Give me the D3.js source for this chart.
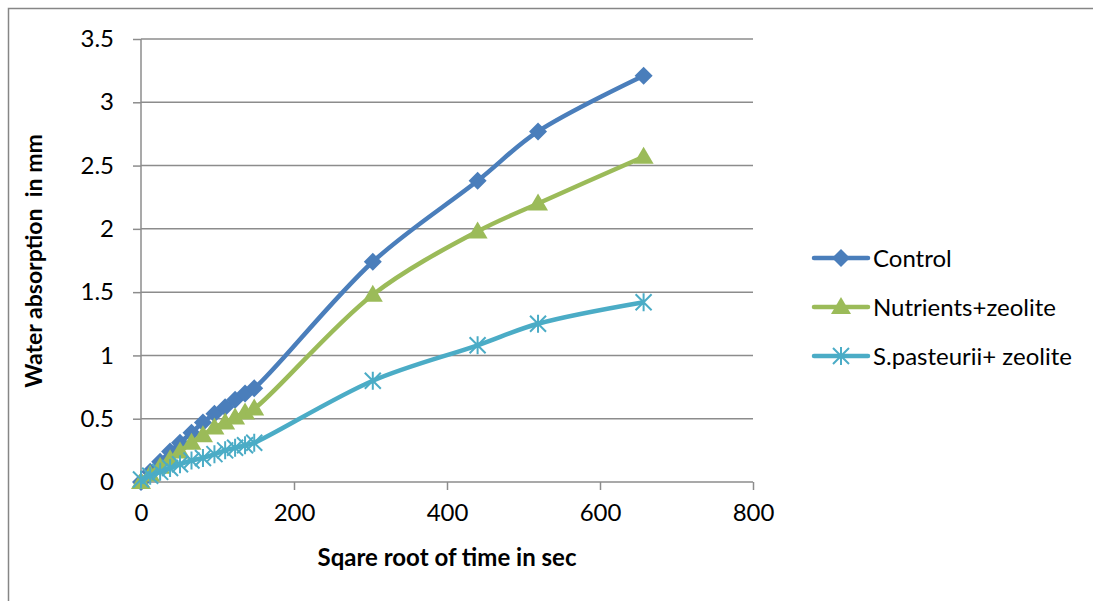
<!DOCTYPE html>
<html>
<head>
<meta charset="utf-8">
<script src="https://cdn.jsdelivr.net/npm/d3@7"></script>
<style>
  body { margin: 0; background: #fff; }
  text { font-family: Lato, "Open Sans", sans-serif; fill: #000; }
</style>
</head>
<body>
<div id="chart"></div>
<script>
// x = square root of time (s), shared by all series
const xValues = [0, 12, 25, 38, 51, 66, 81, 96, 110, 123, 136, 148, 303, 440, 519, 657];
const control = [0, 0.08, 0.16, 0.24, 0.31, 0.39, 0.47, 0.54, 0.59, 0.65, 0.70, 0.74, 1.74, 2.38, 2.77, 3.21];
const nutrients = [0, 0.06, 0.12, 0.18, 0.24, 0.31, 0.37, 0.43, 0.47, 0.51, 0.55, 0.58, 1.48, 1.98, 2.20, 2.57];
const pasteurii = [0.02, 0.05, 0.08, 0.11, 0.14, 0.17, 0.19, 0.22, 0.25, 0.27, 0.29, 0.31, 0.80, 1.08, 1.25, 1.42];
const seriesNames = ["Control", "Nutrients+zeolite", "S.pasteurii+ zeolite"];
const xTicks = [0, 200, 400, 600, 800];
const yTicks = [0, 0.5, 1, 1.5, 2, 2.5, 3, 3.5];

const w = 1093;
const h = 601;
const colors = ["#4A7EBB", "#9BBB59", "#4BACC6"];
const shapes = ["diamond", "triangle", "star"];

const series = [control, nutrients, pasteurii].map((vals, i) => ({
    name: seriesNames[i],
    color: colors[i],
    shape: shapes[i],
    points: vals.map((v, j) => ({ x: xValues[j], y: v }))
}));

const svg = d3.select("#chart")
    .append("svg")
    .attr("width", w)
    .attr("height", h);

// outer chart border
svg.append("rect")
    .attr("x", 8.5).attr("y", 8.5)
    .attr("width", w + 10).attr("height", h + 10)
    .attr("fill", "none")
    .attr("stroke", "#868686")
    .attr("stroke-width", 1.5);

const xScale = d3.scaleLinear().domain([0, 800]).range([141, 753]);
const yScale = d3.scaleLinear().domain([0, 3.5]).range([482, 39]);

// gridlines
svg.append("g")
    .selectAll("line")
    .data(yTicks.filter(d => d > 0))
    .enter()
    .append("line")
    .attr("x1", xScale(0)).attr("x2", xScale(800))
    .attr("y1", d => yScale(d)).attr("y2", d => yScale(d))
    .attr("stroke", "#8c8c8c")
    .attr("stroke-width", 1.5);

// Y axis
const yAxis = d3.axisLeft(yScale).tickValues(yTicks).tickSize(8).tickPadding(19)
    .tickFormat(d => d);
const gy = svg.append("g")
    .attr("transform", `translate(${xScale(0)},0)`)
    .call(yAxis);
gy.select(".domain").remove();
gy.append("line")
    .attr("y1", yScale(0)).attr("y2", yScale(3.5))
    .attr("stroke", "#8c8c8c").attr("stroke-width", 1.5);

// X axis
const xAxis = d3.axisBottom(xScale).tickValues(xTicks).tickSize(8).tickPadding(14);
const gx = svg.append("g")
    .attr("transform", `translate(0,${yScale(0)})`)
    .call(xAxis);
gx.select(".domain").remove();
gx.append("line")
    .attr("x1", xScale(0) - 8).attr("x2", xScale(800))
    .attr("stroke", "#8c8c8c").attr("stroke-width", 1.5);

[gx, gy].forEach(g => {
    g.selectAll(".tick line").attr("stroke", "#8c8c8c").attr("stroke-width", 1.5);
    g.selectAll(".tick text").attr("font-size", 24).attr("fill", "#000")
        .style("font-family", "Lato, sans-serif");
});

// axis titles
svg.append("text")
    .attr("x", 447).attr("y", 566)
    .attr("text-anchor", "middle")
    .attr("font-size", 24)
    .attr("font-weight", "bold")
    .text("Sqare root of time in sec");

svg.append("text")
    .attr("transform", "translate(42,261) rotate(-90)")
    .attr("text-anchor", "middle")
    .attr("font-size", 23)
    .attr("font-weight", "bold")
    .style("white-space", "pre")
    .text("Water absorption  in mm");

// marker shapes
const markerPath = (shape) => {
    if (shape === "diamond") return "M0,-9L9,0L0,9L-9,0Z";
    if (shape === "triangle") return "M0,-10L10,7L-10,7Z";
    return "M0,-9L0,9M-8,-8L8,8M-8,8L8,-8";
};

const line = d3.line()
    .x(d => xScale(d.x))
    .y(d => yScale(d.y))
    .curve(d3.curveCatmullRom.alpha(0.5));

const drawMarker = (g, shape, color, x, y) => {
    const p = g.append("path")
        .attr("d", markerPath(shape))
        .attr("transform", `translate(${x},${y})`);
    if (shape === "star") {
        p.attr("fill", "none").attr("stroke", color).attr("stroke-width", 2);
    } else {
        p.attr("fill", color);
    }
};

series.forEach(s => {
    const g = svg.append("g");
    g.append("path")
        .datum(s.points)
        .attr("d", line)
        .attr("fill", "none")
        .attr("stroke", s.color)
        .attr("stroke-width", 4.5)
        .attr("stroke-linejoin", "round");
    s.points.forEach(p => drawMarker(g, s.shape, s.color, xScale(p.x), yScale(p.y)));
});

// legend
const legend = svg.append("g");
series.forEach((s, i) => {
    const ly = 258 + i * 49;
    legend.append("line")
        .attr("x1", 814).attr("x2", 868)
        .attr("y1", ly).attr("y2", ly)
        .attr("stroke", s.color)
        .attr("stroke-width", 4.5)
        .attr("stroke-linecap", "round");
    drawMarker(legend, s.shape, s.color, 841, ly);
    legend.append("text")
        .attr("x", 873).attr("y", ly + 9)
        .attr("font-size", 24)
        .text(s.name);
});
</script>
</body>
</html>
